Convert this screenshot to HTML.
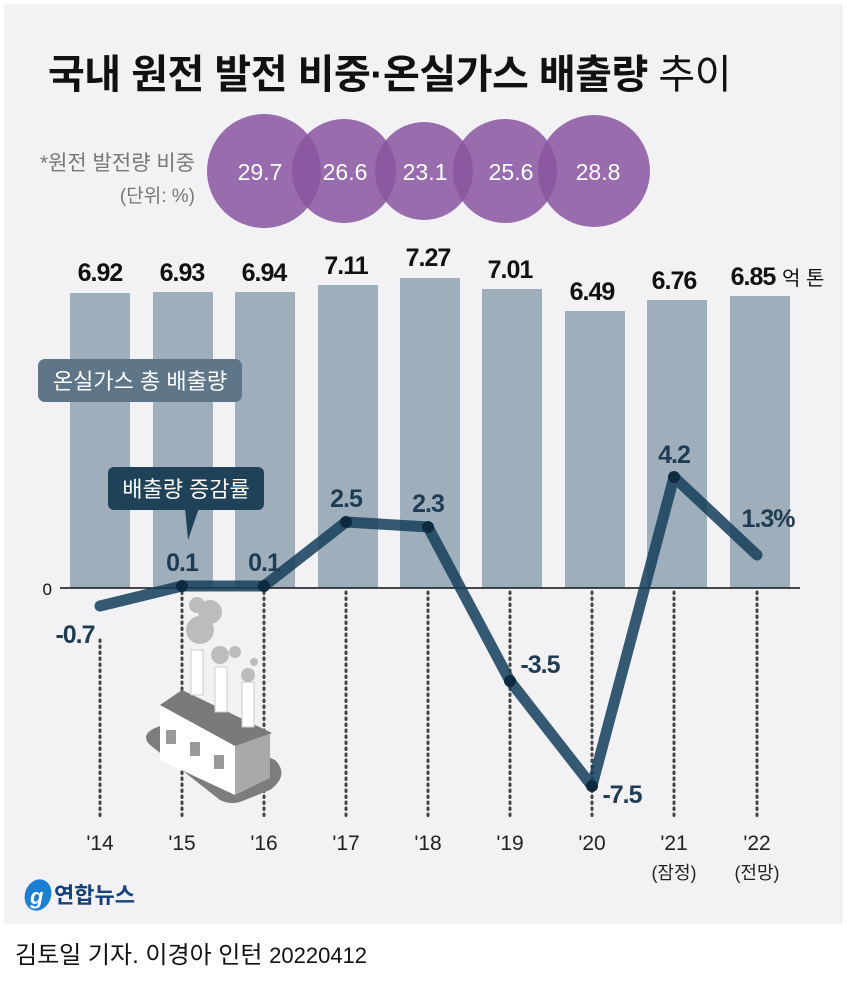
<!DOCTYPE html>
<html><head><meta charset="utf-8">
<style>
html,body{margin:0;padding:0;background:#fff;}
body{width:847px;height:977px;overflow:hidden;font-family:"Liberation Sans","Noto Sans CJK KR",sans-serif;}
</style></head>
<body>
<svg width="847" height="977" viewBox="0 0 847 977" xmlns="http://www.w3.org/2000/svg" font-family="Liberation Sans, Noto Sans CJK KR, sans-serif">
<rect x="4" y="4" width="839" height="920" fill="#f2f2f4"/>
<text x="48" y="88" font-size="40" font-weight="bold" fill="#111" letter-spacing="-0.5">국내 원전 발전 비중·온실가스 배출량 <tspan font-weight="normal">추이</tspan></text>
<!-- circles -->
<g fill="#8a55a0" fill-opacity="0.85">
<circle cx="264" cy="171" r="57"/>
<circle cx="344" cy="171" r="52"/>
<circle cx="424" cy="171" r="49"/>
<circle cx="505" cy="171" r="52"/>
<circle cx="594" cy="171" r="56"/>
</g>
<g fill="#fff" font-size="23" text-anchor="middle">
<text x="260" y="180">29.7</text><text x="345" y="180">26.6</text><text x="425" y="180">23.1</text><text x="511" y="180">25.6</text><text x="598" y="180">28.8</text>
</g>
<text x="195" y="170" font-size="21" fill="#777" text-anchor="end">*원전 발전량 비중</text>
<text x="195" y="202" font-size="19" fill="#777" text-anchor="end">(단위: %)</text>
<!-- bars -->
<g fill="#9eafbb">
<rect x="70" y="293" width="60" height="295"/>
<rect x="153" y="292" width="60" height="296"/>
<rect x="235" y="292" width="60" height="296"/>
<rect x="318" y="285" width="60" height="303"/>
<rect x="400" y="278" width="60" height="310"/>
<rect x="482" y="289" width="60" height="299"/>
<rect x="565" y="311" width="60" height="277"/>
<rect x="647" y="300" width="60" height="288"/>
<rect x="730" y="296" width="60" height="292"/>
</g>
<g font-size="25" font-weight="bold" fill="#111" text-anchor="middle" letter-spacing="-1">
<text x="100" y="281">6.92</text><text x="182" y="281">6.93</text><text x="264" y="281">6.94</text><text x="346" y="274">7.11</text><text x="428" y="266">7.27</text><text x="510" y="278">7.01</text><text x="592" y="300">6.49</text><text x="674" y="289">6.76</text><text x="753" y="285">6.85</text>
</g>
<text x="782" y="285" font-size="20" fill="#111">억 톤</text>
<rect x="38" y="359" width="204" height="43" rx="7" fill="#5f7689"/>
<text x="140" y="389" font-size="22" fill="#fff" text-anchor="middle">온실가스 총 배출량</text>
<!-- dotted lines -->
<g stroke="#444" stroke-width="3" stroke-dasharray="1.5 4.5" stroke-linecap="round">
<line x1="100" y1="640" x2="100" y2="818"/>
<line x1="182" y1="592" x2="182" y2="818"/>
<line x1="264" y1="592" x2="264" y2="818"/>
<line x1="346" y1="592" x2="346" y2="818"/>
<line x1="428" y1="592" x2="428" y2="818"/>
<line x1="510" y1="592" x2="510" y2="818"/>
<line x1="592" y1="592" x2="592" y2="818"/>
<line x1="674" y1="592" x2="674" y2="818"/>
<line x1="757" y1="592" x2="757" y2="818"/>
</g>
<line x1="60" y1="588" x2="800" y2="588" stroke="#111" stroke-width="1.5"/>
<text x="52" y="595" font-size="17" fill="#111" text-anchor="end">0</text>
<!-- factory -->
<g>
<path d="M150 745 Q140 735 155 728 L180 718 L275 760 Q290 775 270 790 L245 800 Q232 806 220 800 Z" fill="#7d7d80"/>
<polygon points="160,705 160,760 235,795 235,740" fill="#fff"/>
<polygon points="235,740 235,795 270,778 270,733" fill="#a9a9ac"/>
<polygon points="160,705 182,690 272,733 235,746" fill="#7a7a7d"/>
<g fill="#fff" stroke="#ccc"><rect x="191" y="650" width="12" height="45"/><rect x="215" y="667" width="12" height="45"/><rect x="242" y="682" width="12" height="45"/></g>
<g fill="#999" opacity="0.6"><circle cx="200" cy="630" r="14"/><circle cx="210" cy="612" r="12"/><circle cx="197" cy="605" r="8"/><circle cx="220" cy="655" r="9"/><circle cx="235" cy="652" r="6"/><circle cx="248" cy="675" r="7"/><circle cx="254" cy="662" r="4"/></g>
<g fill="#999"><rect x="166" y="730" width="10" height="14"/><rect x="190" y="742" width="10" height="14"/><rect x="214" y="755" width="10" height="14"/></g>
</g>
<!-- line -->
<polyline points="100,606 182,586 264,586 346,522 428,527 510,681 592,786 674,477 757,555" fill="none" stroke="#143e5a" stroke-opacity="0.85" stroke-width="11" stroke-linejoin="round" stroke-linecap="round"/>
<g fill="#0e2a3e"><circle cx="182" cy="586" r="6"/><circle cx="264" cy="586" r="6"/><circle cx="346" cy="522" r="6"/><circle cx="428" cy="527" r="6"/><circle cx="510" cy="681" r="6"/><circle cx="592" cy="786" r="6"/><circle cx="674" cy="477" r="6"/></g>
<rect x="108" y="467" width="156" height="43" rx="6" fill="#1f4258"/>
<polygon points="185,508 199,508 188,540" fill="#1f4258"/>
<text x="186" y="497" font-size="22" fill="#fff" text-anchor="middle">배출량 증감률</text>
<g font-size="25" font-weight="bold" fill="#1f3c52" text-anchor="middle" letter-spacing="-1">
<text x="75" y="643">-0.7</text>
<text x="182" y="571">0.1</text><text x="264" y="571">0.1</text><text x="346" y="507">2.5</text><text x="428" y="512">2.3</text>
<text x="540" y="673">-3.5</text><text x="622" y="803">-7.5</text><text x="674" y="463">4.2</text><text x="768" y="527">1.3%</text>
</g>
<g font-size="21" fill="#222" text-anchor="middle">
<text x="100" y="850">'14</text><text x="182" y="850">'15</text><text x="264" y="850">'16</text><text x="346" y="850">'17</text><text x="428" y="850">'18</text><text x="510" y="850">'19</text><text x="592" y="850">'20</text><text x="674" y="850">'21</text><text x="757" y="850">'22</text>
<text x="674" y="879" font-size="18">(잠정)</text><text x="757" y="879" font-size="18">(전망)</text>
</g>
<ellipse cx="38" cy="895" rx="13" ry="16" fill="#1a7fd0" transform="rotate(20 38 895)"/>
<text x="30" y="904" font-size="22" font-style="italic" font-weight="bold" fill="#fff">g</text>
<text x="54" y="903" font-size="22" font-weight="bold" fill="#15407a">연합뉴스</text>
<text x="15" y="963" font-size="24" fill="#111">김토일 기자. 이경아 인턴 <tspan font-size="22">20220412</tspan></text>
</svg>
</body></html>
